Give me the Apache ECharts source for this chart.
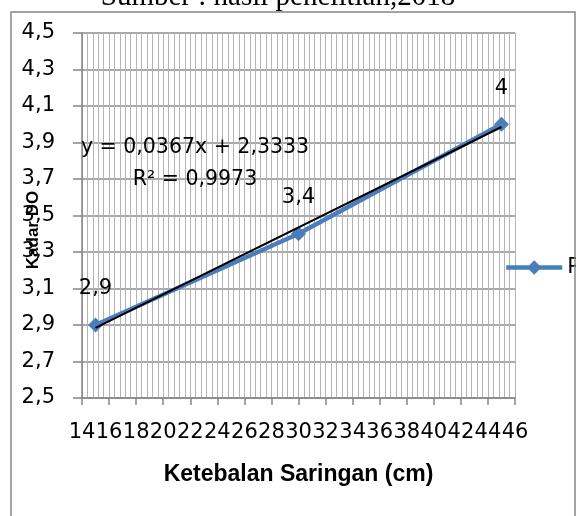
<!DOCTYPE html>
<html>
<head>
<meta charset="utf-8">
<script src="https://cdn.jsdelivr.net/npm/echarts@6/dist/echarts.min.js"></script>
<style>
  html, body { margin: 0; padding: 0; background: #fff; }
  #main { width: 579px; height: 516px; }
</style>
</head>
<body>
<div id="main"></div>
<script>
// data
var ketebalan = [15, 30, 45];          // Ketebalan Saringan (cm)
var kadarDO = [2.9, 3.4, 4];           // Kadar DO
var trendX = [15, 45];                 // ends of the linear trendline
var trendY = [2.884, 3.985];
var xTicks = [14, 16, 18, 20, 22, 24, 26, 28, 30, 32, 34, 36, 38, 40, 42, 44, 46];
var yTicks = ['2,5', '2,7', '2,9', '3,1', '3,3', '3,5', '3,7', '3,9', '4,1', '4,3', '4,5'];
var yBase = 2.5; // y axis starts at 2,5, so values are offset to keep ticks on 0.2 steps

var myChart = echarts.init(document.getElementById('main'));

var font = "'DejaVu Sans', sans-serif";
var boldFont = "'Liberation Sans', Arial, sans-serif";

myChart.setOption({
    backgroundColor: '#fff',
    animation: false,
    grid: { left: 82, right: 64, top: 33, bottom: 118 },
    legend: {
        left: 504, top: 257, padding: 0,
        itemWidth: 56, itemHeight: 18, itemGap: 4,
        data: ['P'],
        lineStyle: { color: '#4a7ebb', width: 4.5 },
        itemStyle: { color: '#4a7ebb' },
        textStyle: { fontFamily: font, fontSize: 21, color: '#000' }
    },
    xAxis: {
        type: 'value',
        min: xTicks[0], max: xTicks[xTicks.length - 1], interval: 2,
        axisLine: { lineStyle: { color: '#868686', width: 1.5 } },
        axisTick: { show: true, length: 7, lineStyle: { color: '#868686', width: 1.5 } },
        axisLabel: { margin: 24, fontFamily: font, fontSize: 21, color: '#000' },
        splitLine: { show: true, lineStyle: { color: '#b4b4b4', width: 1 } },
        minorTick: { show: false, splitNumber: 5 },
        minorSplitLine: { show: true, lineStyle: { color: '#b4b4b4', width: 1 } },
        name: 'Ketebalan Saringan (cm)',
        nameLocation: 'middle', nameGap: 65,
        nameTextStyle: { fontFamily: boldFont, fontSize: 23, fontWeight: 'bold', color: '#000' }
    },
    yAxis: {
        type: 'value',
        min: 0, max: 2, interval: 0.2,
        axisLine: { show: true, lineStyle: { color: '#868686', width: 1.5 } },
        axisTick: { show: true, length: 9, lineStyle: { color: '#868686', width: 1.5 } },
        axisLabel: {
            margin: 27, fontFamily: font, fontSize: 21, color: '#000',
            formatter: function (v) { return yTicks[Math.round(v / 0.2)]; }
        },
        splitLine: { show: true, lineStyle: { color: '#8c8c8c', width: 1.5 } }
    },
    series: [{
        name: 'P',
        type: 'line',
        data: ketebalan.map(function (x, i) { return [x, kadarDO[i] - yBase]; }),
        symbol: 'diamond', symbolSize: 15,
        lineStyle: { color: '#4a7ebb', width: 4.5 },
        itemStyle: { color: '#4a7ebb' },
        label: {
            show: true, position: 'top', distance: 18,
            fontFamily: font, fontSize: 21, color: '#000',
            formatter: function (p) { return String(kadarDO[p.dataIndex]).replace('.', ','); }
        },
        z: 3
    }, {
        name: 'trend',
        type: 'line',
        data: trendX.map(function (x, i) { return [x, trendY[i] - yBase]; }),
        symbol: 'none',
        lineStyle: { color: '#000', width: 2 },
        silent: true,
        z: 4
    }],
    graphic: [{
        type: 'rect',
        shape: { x: 576, y: 0, width: 10, height: 516 },
        style: { fill: '#fff' },
        z: 100
    }, {
        type: 'rect',
        shape: { x: 11, y: 12, width: 564, height: 520 },
        style: { fill: 'none', stroke: '#868686', lineWidth: 1.5 },
        z: 101
    }, {
        type: 'text',
        x: 278, y: -3,
        style: {
            text: 'Sumber : hasil penelitian,2018',
            font: "29px 'Liberation Serif', 'Times New Roman', serif",
            fill: '#000', align: 'center', verticalAlign: 'middle'
        }
    }, {
        type: 'text',
        x: 33, y: 230, rotation: Math.PI / 2,
        style: {
            text: 'Kadar DO',
            font: "bold 17px 'Liberation Sans', Arial, sans-serif",
            fill: '#000', align: 'center', verticalAlign: 'middle'
        },
        z: 10
    }, {
        type: 'text',
        x: 195, y: 164,
        style: {
            text: 'y = 0,0367x + 2,3333\nR² = 0,9973',
            font: "20.5px 'DejaVu Sans', sans-serif",
            lineHeight: 32,
            fill: '#000', align: 'center', verticalAlign: 'middle'
        },
        z: 10
    }]
});
</script>
</body>
</html>
